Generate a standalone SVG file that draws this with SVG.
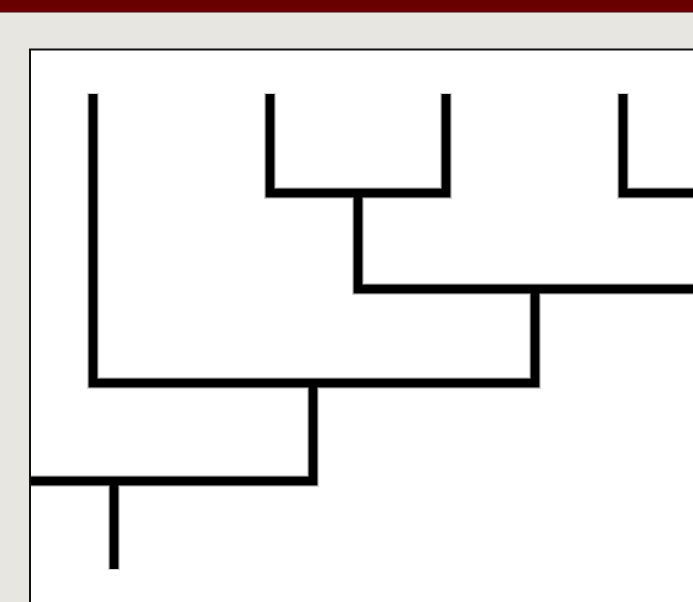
<svg xmlns="http://www.w3.org/2000/svg" width="693" height="602" viewBox="0 0 693 602">
<style>
.shadow{fill:none;stroke:#cfcfcf;stroke-width:12;stroke-linejoin:miter;stroke-linecap:butt}
.link{fill:none;stroke:#000;stroke-width:9;stroke-linejoin:miter;stroke-linecap:butt}
</style>
<rect x="0" y="0" width="693" height="602" fill="#e7e6e1"/>
<g id="titlebar">
<rect x="0" y="0" width="693" height="11" fill="#680000"/>
<rect x="0" y="11" width="693" height="1.5" fill="#2a1a1a"/>
</g>
<g id="panel">
<rect x="30" y="49.5" width="670" height="560" fill="#ffffff" stroke="#111" stroke-width="2"/>
</g>
<g id="connectors">
<path class="shadow" d="M93 93 V383 H535 V289 M270 93 V193 H446 V93 M358 193 V289 H700 M623 93 V193 H700 M313 383 V481 H31 M114 481 V570"/>
<path class="link" d="M93 94 V383 H535 V289 M270 94 V193 H446 V94 M358 193 V289 H700 M623 94 V193 H700 M313 383 V481 H31 M114 481 V569"/>
</g>
</svg>
